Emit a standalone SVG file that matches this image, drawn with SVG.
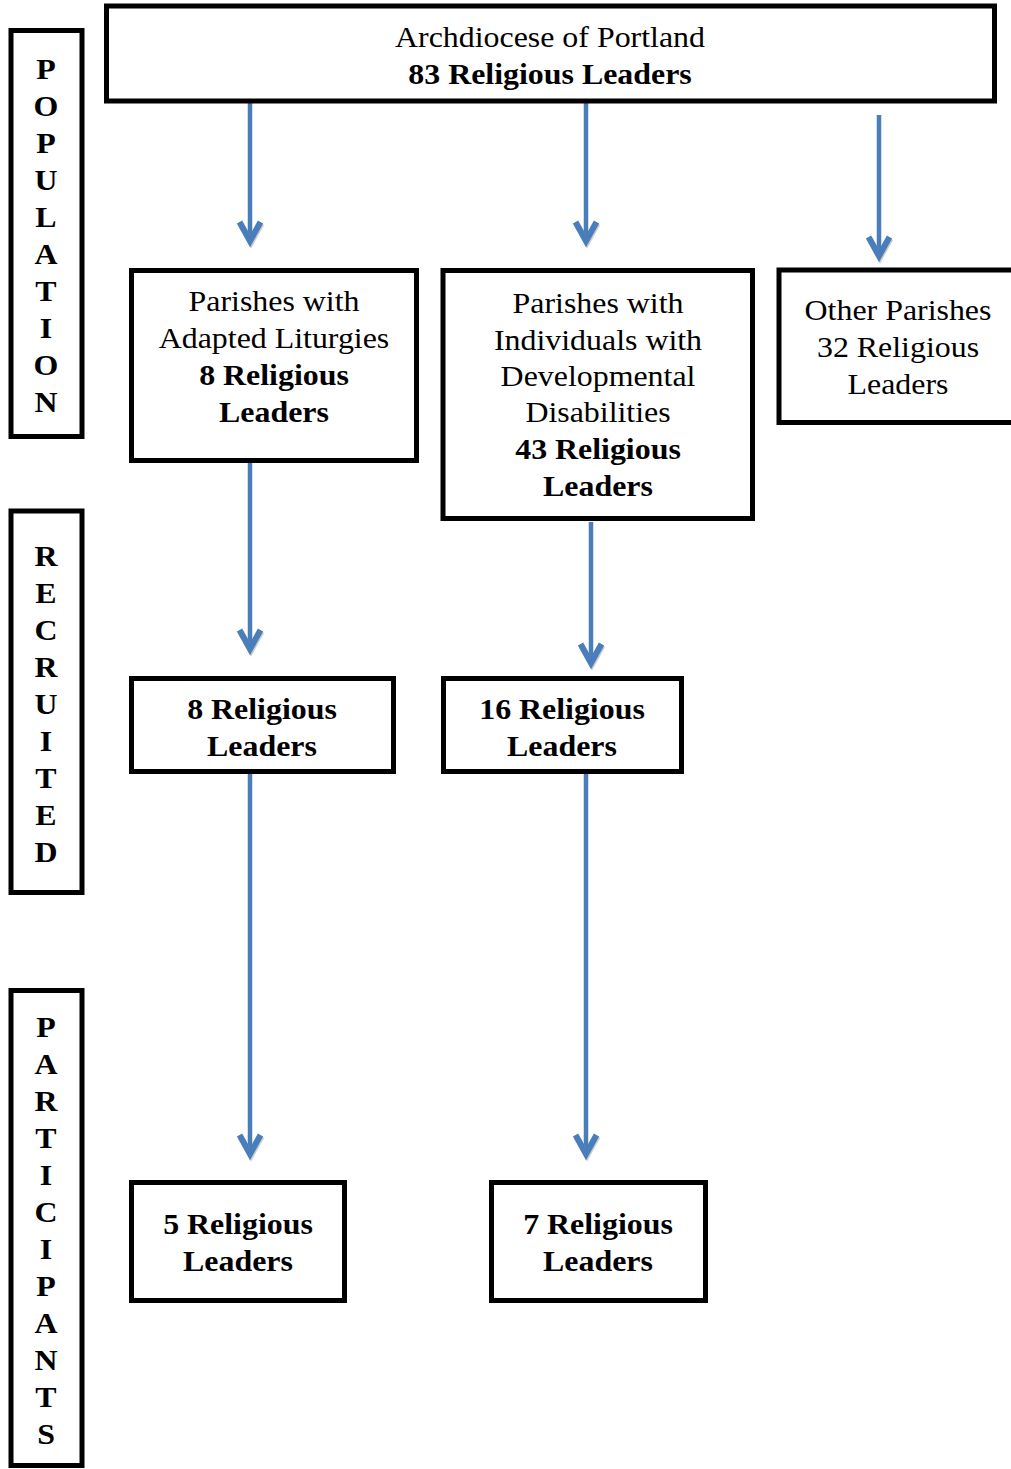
<svg xmlns="http://www.w3.org/2000/svg" width="1011" height="1469" viewBox="0 0 1011 1469">
  <style>
    .box { fill: #ffffff; stroke: #000000; stroke-width: 5; }
    .t { font-family: "Liberation Serif", "Times New Roman", serif; font-size: 29px; fill: #000000; text-anchor: middle; }
    .b { font-weight: bold; }
    .conn { stroke: #4A7EBB; stroke-width: 4.5; fill: none; marker-end: url(#head); }
  </style>
  <defs>
    <marker id="head" markerUnits="userSpaceOnUse" viewBox="-30 -16 40 32" markerWidth="40" markerHeight="32" refX="0" refY="0" orient="auto">
      <polyline points="-19,-10.5 0,0 -19,10.5" transform="translate(1.5,-1)" fill="none" stroke="#9a9a9a" stroke-opacity="0.5" stroke-width="6" stroke-linejoin="miter"/>
      <polyline points="-19,-10.5 0,0 -19,10.5" fill="none" stroke="#4A7EBB" stroke-width="6" stroke-linejoin="miter"/>
    </marker>
  </defs>

  <g id="label-population">
    <rect class="box" x="11" y="30.5" width="71" height="406"/>
    <g transform="translate(46,0) scale(1.1,1)">
      <text class="t b"><tspan x="0" y="79">P</tspan><tspan x="0" y="116">O</tspan><tspan x="0" y="153">P</tspan><tspan x="0" y="190">U</tspan><tspan x="0" y="227">L</tspan><tspan x="0" y="264">A</tspan><tspan x="0" y="301">T</tspan><tspan x="0" y="338">I</tspan><tspan x="0" y="375">O</tspan><tspan x="0" y="412">N</tspan></text>
    </g>
  </g>

  <g id="label-recruited">
    <rect class="box" x="11" y="511" width="71" height="381.5"/>
    <g transform="translate(46,0) scale(1.1,1)">
      <text class="t b"><tspan x="0" y="566">R</tspan><tspan x="0" y="603">E</tspan><tspan x="0" y="640">C</tspan><tspan x="0" y="677">R</tspan><tspan x="0" y="714">U</tspan><tspan x="0" y="751">I</tspan><tspan x="0" y="788">T</tspan><tspan x="0" y="825">E</tspan><tspan x="0" y="862">D</tspan></text>
    </g>
  </g>

  <g id="label-participants">
    <rect class="box" x="11" y="990.5" width="71" height="475"/>
    <g transform="translate(46,0) scale(1.1,1)">
      <text class="t b"><tspan x="0" y="1037">P</tspan><tspan x="0" y="1074">A</tspan><tspan x="0" y="1111">R</tspan><tspan x="0" y="1148">T</tspan><tspan x="0" y="1185">I</tspan><tspan x="0" y="1222">C</tspan><tspan x="0" y="1259">I</tspan><tspan x="0" y="1296">P</tspan><tspan x="0" y="1333">A</tspan><tspan x="0" y="1370">N</tspan><tspan x="0" y="1407">T</tspan><tspan x="0" y="1444">S</tspan></text>
    </g>
  </g>

  <g id="connectors">
    <line class="conn" x1="250" y1="103" x2="250" y2="241"/>
    <line class="conn" x1="586" y1="103" x2="586" y2="241"/>
    <line class="conn" x1="879" y1="115" x2="879" y2="256"/>
    <line class="conn" x1="250" y1="463" x2="250" y2="649"/>
    <line class="conn" x1="591" y1="522" x2="591" y2="663"/>
    <line class="conn" x1="250" y1="774" x2="250" y2="1154"/>
    <line class="conn" x1="586" y1="774" x2="586" y2="1154"/>
  </g>

  <g id="node-archdiocese">
    <rect class="box" x="106.5" y="6" width="888" height="95"/>
    <g transform="translate(550,0) scale(1.1,1)">
      <text class="t"><tspan x="0" y="47">Archdiocese of Portland</tspan><tspan class="b" x="0" y="84">83 Religious Leaders</tspan></text>
    </g>
  </g>

  <g id="node-adapted">
    <rect class="box" x="131.5" y="270.5" width="285" height="190"/>
    <g transform="translate(274,0) scale(1.1,1)">
      <text class="t"><tspan x="0" y="311">Parishes with</tspan><tspan x="0" y="348">Adapted Liturgies</tspan><tspan class="b" x="0" y="385">8 Religious</tspan><tspan class="b" x="0" y="422">Leaders</tspan></text>
    </g>
  </g>

  <g id="node-individuals">
    <rect class="box" x="443" y="270.5" width="309.5" height="248"/>
    <g transform="translate(598,0) scale(1.1,1)">
      <text class="t"><tspan x="0" y="313">Parishes with</tspan><tspan x="0" y="350">Individuals with</tspan><tspan x="0" y="386">Developmental</tspan><tspan x="0" y="422">Disabilities</tspan><tspan class="b" x="0" y="459">43 Religious</tspan><tspan class="b" x="0" y="496">Leaders</tspan></text>
    </g>
  </g>

  <g id="node-other">
    <rect class="box" x="779" y="270" width="245" height="152.5"/>
    <g transform="translate(898,0) scale(1.1,1)">
      <text class="t"><tspan x="0" y="320">Other Parishes</tspan><tspan x="0" y="357">32 Religious</tspan><tspan x="0" y="394">Leaders</tspan></text>
    </g>
  </g>

  <g id="node-recruited-8">
    <rect class="box" x="131.5" y="678.5" width="262" height="93"/>
    <g transform="translate(262,0) scale(1.1,1)">
      <text class="t b"><tspan x="0" y="719">8 Religious</tspan><tspan x="0" y="756">Leaders</tspan></text>
    </g>
  </g>

  <g id="node-recruited-16">
    <rect class="box" x="443.5" y="678.5" width="238" height="93"/>
    <g transform="translate(562,0) scale(1.1,1)">
      <text class="t b"><tspan x="0" y="719">16 Religious</tspan><tspan x="0" y="756">Leaders</tspan></text>
    </g>
  </g>

  <g id="node-participants-5">
    <rect class="box" x="131.5" y="1182.5" width="213" height="118"/>
    <g transform="translate(238,0) scale(1.1,1)">
      <text class="t b"><tspan x="0" y="1234">5 Religious</tspan><tspan x="0" y="1271">Leaders</tspan></text>
    </g>
  </g>

  <g id="node-participants-7">
    <rect class="box" x="491.5" y="1182.5" width="214" height="118"/>
    <g transform="translate(598,0) scale(1.1,1)">
      <text class="t b"><tspan x="0" y="1234">7 Religious</tspan><tspan x="0" y="1271">Leaders</tspan></text>
    </g>
  </g>
</svg>
